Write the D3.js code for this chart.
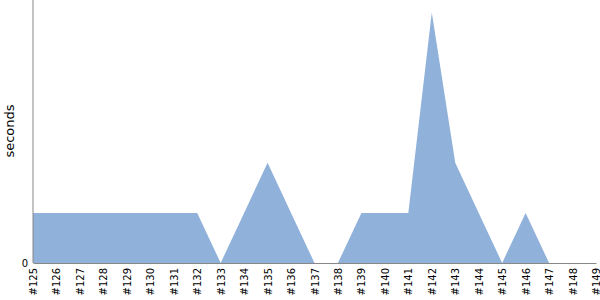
<!DOCTYPE html>
<html><head><meta charset="utf-8">
<script src="https://cdn.jsdelivr.net/npm/d3@7"></script>
<style>body{margin:0;background:#fff}svg{display:block}text{font-family:"DejaVu Sans",sans-serif}</style>
</head><body>
<svg id="c" width="600" height="300"></svg>
<script>
const categories = ["#125","#126","#127","#128","#129","#130","#131","#132","#133","#134","#135","#136","#137","#138","#139","#140","#141","#142","#143","#144","#145","#146","#147","#148","#149"];
const values = [1,1,1,1,1,1,1,1,0,1,2,1,0,0,1,1,1,5,2,1,0,1,0,0,0];
const yTicks = [0];

const svg = d3.select("#c");
const mLeft = 33, mRight = 596, mBottom = 263, mTop = 0;
const x = d3.scalePoint().domain(categories).range([mLeft, mRight]);
const y = d3.scaleLinear().domain([0, 5.25]).range([mBottom, mTop]);

const area = d3.area().x((d,i)=>x(categories[i])).y0(mBottom).y1(d=>y(d));
svg.append("path").datum(values).attr("d", area).attr("fill", "#8fb1da");

const xa = svg.append("g").attr("transform", `translate(0,${mBottom})`)
  .call(d3.axisBottom(x).tickSize(0).tickPadding(0));
xa.select(".domain").attr("stroke", "#888");
xa.selectAll("text").attr("transform", "rotate(-90)").attr("text-anchor", "end")
  .attr("x", -5).attr("y", 0).attr("dy", "0.35em").attr("font-size", 10)
  .attr("font-family", "DejaVu Sans").attr("fill", "#000");

const ya = svg.append("g").attr("transform", `translate(${mLeft},0)`)
  .call(d3.axisLeft(y).tickValues(yTicks).tickSize(0).tickPadding(5).tickFormat(d3.format("d")));
ya.select(".domain").attr("stroke", "#888").attr("d", `M0,${mTop}V${mBottom}`);
ya.selectAll("text").attr("font-size", 10).attr("font-family", "DejaVu Sans").attr("fill", "#000");

svg.append("text").attr("transform", `translate(14,131) rotate(-90)`)
  .attr("text-anchor", "middle").attr("font-size", 13).attr("fill", "#000").text("seconds");
</script>
</body></html>
